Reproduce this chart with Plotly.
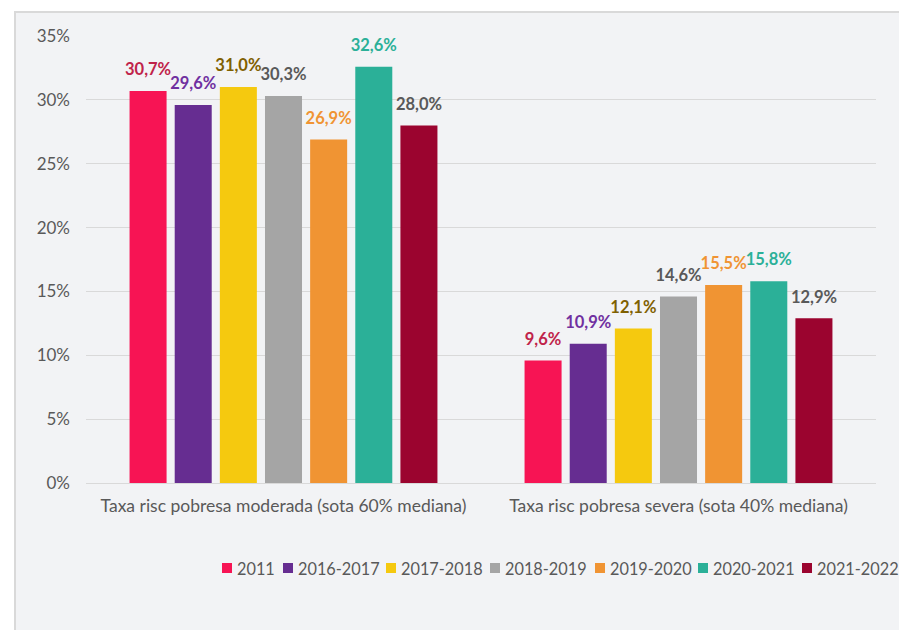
import plotly.graph_objects as go

categories = ["Taxa risc pobresa moderada (sota 60% mediana)",
              "Taxa risc pobresa severa (sota 40% mediana)"]
series_names = ["2011", "2016-2017", "2017-2018", "2018-2019", "2019-2020", "2020-2021", "2021-2022"]
values = [
    [30.7, 9.6],
    [29.6, 10.9],
    [31.0, 12.1],
    [30.3, 14.6],
    [26.9, 15.5],
    [32.6, 15.8],
    [28.0, 12.9],
]
bar_colors = ["#f71454", "#662d91", "#f5c90f", "#a5a5a5", "#f09433", "#2bb098", "#9b042f"]
label_colors = ["#c0234a", "#7030a0", "#7f6000", "#595959", "#f09433", "#2bb098", "#595959"]
y_ticks = [0, 5, 10, 15, 20, 25, 30, 35]
y_tick_labels = ["0%", "5%", "10%", "15%", "20%", "25%", "30%", "35%"]

FONT = "Lato, 'Open Sans', sans-serif"
GRAY = "#595959"

W, H = 899, 630
# plot area in page pixels: x 86..876, y 36..483
ml, mt = 86, 36
mr, mb = W - 876, H - 483
pw, ph = W - ml - mr, H - mt - mb


def px_x(x):
    return (x - ml) / pw


def px_y(y):
    return (H - mb - y) / ph


fig = go.Figure()
for name, vals, bc in zip(series_names, values, bar_colors):
    fig.add_trace(go.Bar(
        x=categories, y=vals, name=name, offsetgroup=name,
        marker=dict(color=bc, line=dict(width=0)),
        showlegend=False,
    ))
for name, vals, lc in zip(series_names, values, label_colors):
    fig.add_trace(go.Scatter(
        x=categories, y=vals, name=name, offsetgroup=name,
        mode="markers+text", text=[f"{v:.1f}%".replace(".", ",") for v in vals],
        textposition="top center",
        marker=dict(size=17, opacity=0),
        textfont=dict(color=lc, size=16.5, family=FONT, weight="bold"),
        cliponaxis=False, showlegend=False, hoverinfo="skip",
    ))

# background panel
fig.add_shape(type="rect", xref="paper", yref="paper", layer="below",
              x0=px_x(15), x1=px_x(960), y0=px_y(700), y1=px_y(12),
              fillcolor="#f2f3f5", line=dict(color="#d9d9d9", width=2))

# legend (custom, to match the compact source layout)
legend_x = [222, 283, 386, 490, 595, 698, 802]
legend_y = 568
for lx, name, bc in zip(legend_x, series_names, bar_colors):
    fig.add_shape(type="rect", xref="paper", yref="paper",
                  x0=px_x(lx), x1=px_x(lx + 10), y0=px_y(legend_y + 5), y1=px_y(legend_y - 5),
                  fillcolor=bc, line=dict(width=0))
    fig.add_annotation(xref="paper", yref="paper", x=px_x(lx + 13), y=px_y(legend_y),
                       xanchor="left", yanchor="middle", text=name, showarrow=False,
                       font=dict(size=16.3, color=GRAY, family=FONT))

fig.update_layout(
    width=W, height=H,
    margin=dict(l=ml, r=mr, t=mt, b=mb, autoexpand=False),
    paper_bgcolor="white", plot_bgcolor="rgba(0,0,0,0)",
    barmode="group", bargap=0.2, bargroupgap=0.18,
    scattermode="group", scattergap=0.2,
    separators=",.",
    font=dict(family=FONT, color=GRAY, size=17),
    showlegend=False,
    xaxis=dict(showgrid=False, showline=False, ticks="", ticklabelstandoff=10,
               tickfont=dict(size=17.5, color=GRAY)),
    yaxis=dict(range=[0, 35], tickmode="array", tickvals=y_ticks, ticktext=y_tick_labels,
               showgrid=True, gridcolor="#d9d9d9", gridwidth=1, zeroline=True,
               zerolinecolor="#d9d9d9", zerolinewidth=1, showline=False, ticks="",
               ticklabelstandoff=15, tickfont=dict(size=17, color=GRAY)),
)

fig.write_html("out.html", config={"displayModeBar": False},
               post_script="document.body.style.margin='0';document.body.style.overflow='hidden';")
